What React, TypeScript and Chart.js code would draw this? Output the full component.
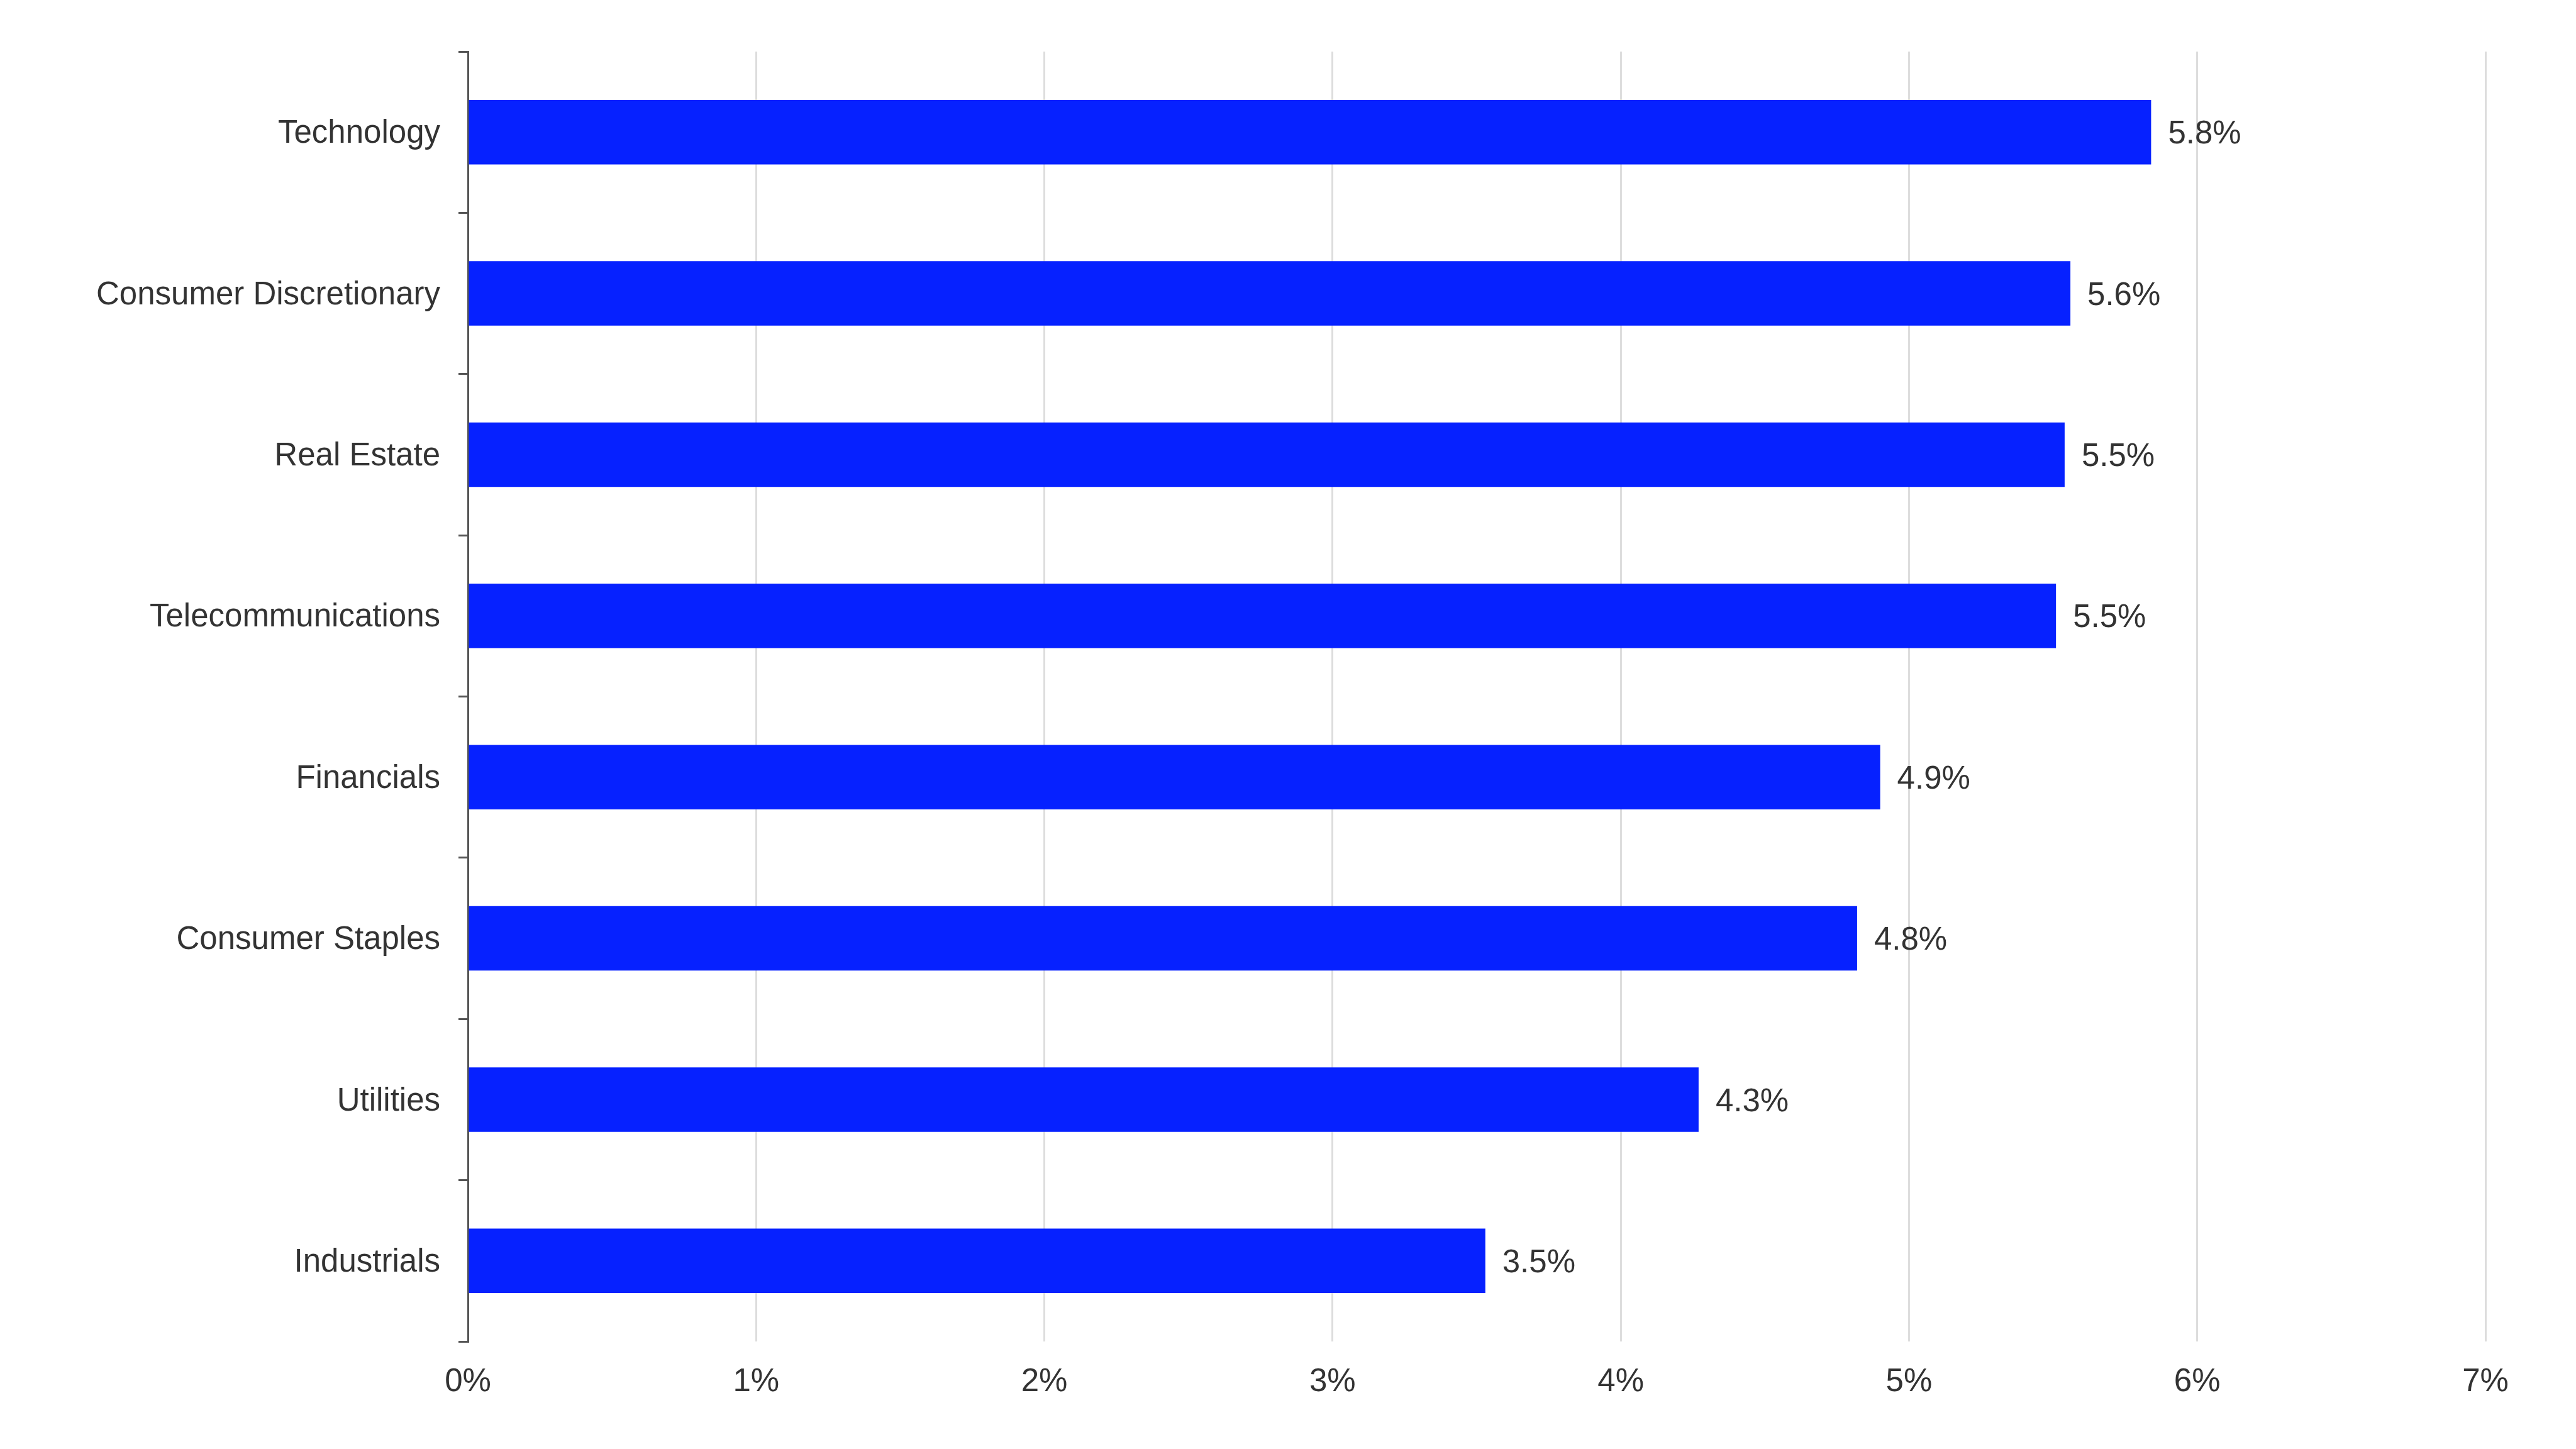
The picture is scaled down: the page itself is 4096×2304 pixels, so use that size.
import React, { useEffect, useRef } from 'react';
import Chart from 'chart.js/auto';

const sectors = [
  'Technology',
  'Consumer Discretionary',
  'Real Estate',
  'Telecommunications',
  'Financials',
  'Consumer Staples',
  'Utilities',
  'Industrials',
];
const returns = [5.84, 5.56, 5.54, 5.51, 4.9, 4.82, 4.27, 3.53];
const xTicks = [0, 1, 2, 3, 4, 5, 6, 7];

const FONT = "'Liberation Sans', Arial, sans-serif";
const TEXT = '#333333';

// value labels at the end of each bar
const barLabels = {
  id: 'barLabels',
  afterDatasetsDraw(chart: Chart) {
    const { ctx } = chart;
    const meta = chart.getDatasetMeta(0);
    ctx.save();
    ctx.font = `51px ${FONT}`;
    ctx.fillStyle = TEXT;
    ctx.textAlign = 'left';
    ctx.textBaseline = 'middle';
    meta.data.forEach((el: any, i: number) => {
      ctx.fillText(returns[i].toFixed(1) + '%', el.x + 27, el.y + 4);
    });
    ctx.restore();
  },
};

const App: React.FC = () => {
  const chartRef = useRef<HTMLCanvasElement>(null);

  useEffect(() => {
    document.body.style.margin = '0';
    if (!chartRef.current) return;
    const chart = new Chart(chartRef.current, {
      type: 'bar',
      data: {
        labels: sectors,
        datasets: [
          {
            data: returns,
            backgroundColor: '#0621ff',
            barPercentage: 0.4,
            categoryPercentage: 1,
          },
        ],
      },
      options: {
        indexAxis: 'y',
        animation: false,
        responsive: true,
        maintainAspectRatio: false,
        layout: { padding: { top: 82, right: 144, bottom: 0, left: 0 } },
        plugins: {
          legend: { display: false },
          tooltip: { enabled: false },
        },
        scales: {
          x: {
            min: 0,
            max: 7,
            afterBuildTicks: (scale: any) => {
              scale.ticks = xTicks.map((v) => ({ value: v }));
            },
            afterFit: (scale: any) => {
              scale.height = 171;
            },
            grid: {
              color: (c: any) => (c.tick && c.tick.value === 0 ? 'rgba(0,0,0,0)' : '#dddddd'),
              lineWidth: 3,
              drawTicks: false,
            },
            border: { display: false },
            ticks: {
              padding: 34,
              color: TEXT,
              font: { family: FONT, size: 51 },
              callback: (v: any) => v + '%',
            },
          },
          y: {
            afterFit: (scale: any) => {
              scale.width = 744;
            },
            grid: {
              drawOnChartArea: false,
              drawTicks: true,
              tickLength: 15,
              color: '#555555',
              lineWidth: 3,
            },
            border: { display: true, color: '#555555', width: 3 },
            ticks: {
              padding: 29,
              labelOffset: 3,
              color: TEXT,
              font: { family: FONT, size: 51 },
            },
          },
        },
      },
      plugins: [barLabels],
    });
    return () => chart.destroy();
  }, []);

  return (
    <div style={{ width: 4096, height: 2304, position: 'relative', background: '#fff' }}>
      <canvas ref={chartRef} />
    </div>
  );
};

export default App;
